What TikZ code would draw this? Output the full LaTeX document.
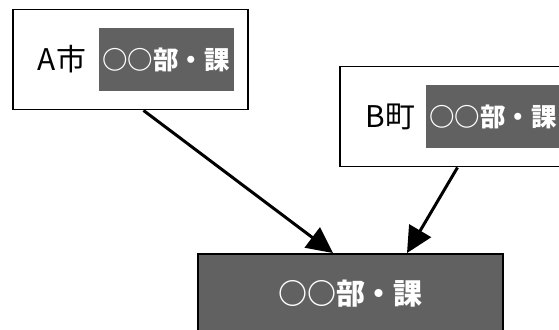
\documentclass[tikz,border=0pt]{standalone}
\usepackage{fontspec}
\newfontfamily\jpfont{Noto Sans CJK JP}
\usetikzlibrary{positioning,arrows.meta,calc}

\begin{document}
\begin{tikzpicture}[x=0.02cm,y=-0.02cm,
  orgbox/.style={draw, line width=1.1pt, fill=white, minimum width=4.7cm, minimum height=2cm, inner sep=0pt},
  deptbox/.style={fill=black!62, text=white, font=\jpfont\bfseries\fontsize{14.5}{17}\selectfont, minimum width=2.7cm, minimum height=1.26cm, inner sep=0pt},
  orgname/.style={font=\jpfont\fontsize{17}{20}\selectfont, inner sep=0pt},
  arr/.style={-{Triangle[length=0.52cm,width=0.5cm]}, line width=1.7pt}
]
\clip (0,0) rectangle (559,329);
\node[orgbox] (cityA) at (130.5,59.5) {};
\node[deptbox, left=0.3cm of cityA.east] (cityAdept) {○○部・課};
\node[orgname, left=0.24cm of cityAdept] (cityAname) {A市};
\node[orgbox] (townB) at (457.5,116.5) {};
\node[deptbox, left=0.3cm of townB.east] (townBdept) {○○部・課};
\node[orgname, left=0.2cm of townBdept] (townBname) {B町};
\node[deptbox, draw=black, line width=1.1pt, minimum width=6.1cm, minimum height=1.6cm,
  font=\jpfont\bfseries\fontsize{16.5}{19}\selectfont] (dept) at (350.5,294) {○○部・課};
\draw[arr] ($(cityA.south)+(13,0)$) -- ($(dept.north)+(-17.5,0)$);
\draw[arr] (townB.south) -- ($(dept.north)+(56.5,0)$);
\end{tikzpicture}
\end{document}
